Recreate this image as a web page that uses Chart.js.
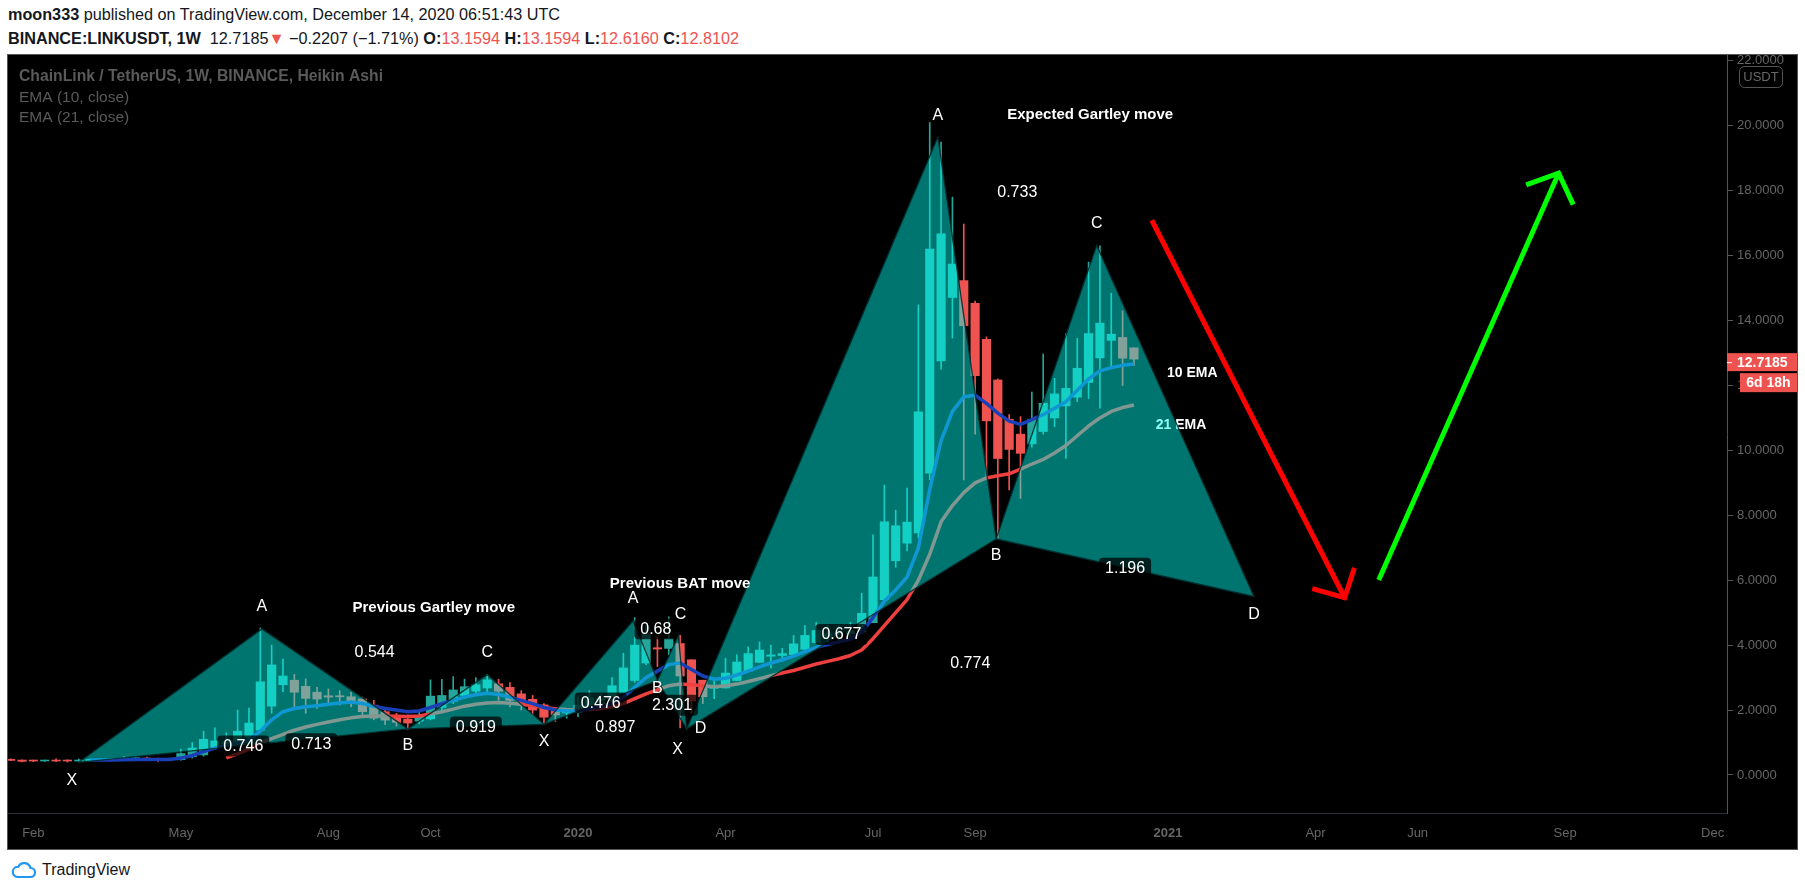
<!DOCTYPE html>
<html>
<head>
<meta charset="utf-8">
<script src="https://cdn.jsdelivr.net/npm/chart.js@4.4.1/dist/chart.umd.min.js"></script>
<style>
  body { margin: 0; width: 1805px; height: 895px; background: #fff; position: relative; overflow: hidden;
         font-family: "Liberation Sans", Arial, sans-serif; }
  .hdr { position: absolute; left: 8px; white-space: nowrap; font-size: 16px; color: #131722; transform-origin: 0 0; }
  #h1 { top: 6px; }
  #h2 { top: 30px; }
  .r { color: #ef5350; }
  #frame { position: absolute; left: 7px; top: 54px; width: 1789px; height: 794px; border: 1px solid #555; background: #000; }
  #logo { position: absolute; left: 11px; top: 861px; display: flex; align-items: center; gap: 5px;
          font-size: 16px; color: #131722; }
</style>
</head>
<body>
<div class="hdr" id="h1"></div>
<div class="hdr" id="h2"></div>
<div id="frame"><canvas id="c" width="1789" height="794"></canvas></div>
<div id="logo">
  <svg width="26" height="18" viewBox="0 0 26 18"><path d="M6.5 16h13a4.5 4.5 0 0 0 0-9 6.5 6.5 0 0 0-12.2-1.2A5 5 0 0 0 6.5 16z" fill="none" stroke="#2196f3" stroke-width="2.2"/></svg>
  <span>TradingView</span>
</div>
<script>
// weekly Heikin Ashi candles, LINKUSDT, first week 21 Jan 2019
const firstWeek = '2019-01-21';
const haOpen = [0.47,0.46,0.44,0.43,0.44,0.44,0.43,0.45,0.46,0.48,
  0.47,0.50,0.51,0.50,0.48,0.47,0.56,0.62,0.86,0.95,
  0.98,1.16,1.38,2.12,2.78,2.92,2.73,2.55,2.44,2.42,
  2.41,2.34,2.15,1.95,1.82,1.72,1.66,1.73,2.08,2.27,
  2.45,2.58,2.68,2.81,2.70,2.50,2.33,2.16,1.97,1.91,
  1.92,2.03,2.20,2.28,2.52,2.91,3.45,3.92,3.90,4.05,
  3.55,2.92,2.67,2.68,2.91,3.20,3.47,3.66,3.68,3.71,
  3.87,4.08,4.27,4.31,4.34,4.40,4.69,5.40,6.60,7.14,
  7.46,9.30,12.76,14.71,15.23,14.53,13.42,12.17,10.96,10.50,
  10.20,10.58,11.00,11.37,11.64,12.09,12.85,13.39,13.48,13.1594];
const haHigh = [0.50,0.47,0.46,0.46,0.50,0.47,0.49,0.50,0.50,0.51,
  0.57,0.56,0.55,0.52,0.52,0.80,1.00,1.35,1.45,1.30,
  2.00,2.06,4.53,4.00,3.57,3.10,2.96,2.70,2.65,2.60,
  2.55,2.40,2.30,2.05,1.90,1.85,2.00,2.93,2.95,3.03,
  2.95,3.00,3.10,2.95,2.85,2.60,2.45,2.20,2.00,2.05,
  2.40,2.60,2.50,3.00,3.75,4.85,4.60,4.26,4.87,4.30,
  3.55,2.92,2.95,3.60,3.70,3.95,4.10,4.00,3.90,4.30,
  4.60,4.70,4.60,4.60,4.70,5.60,7.40,8.93,8.16,8.84,
  14.48,20.10,19.50,17.80,16.97,14.60,13.50,12.20,11.10,11.04,
  11.80,12.97,12.22,13.60,13.45,15.80,16.30,14.84,14.30,13.1594];
const haLow = [0.44,0.40,0.41,0.42,0.41,0.40,0.42,0.43,0.44,0.44,
  0.45,0.47,0.46,0.42,0.44,0.46,0.52,0.58,0.80,0.85,
  0.95,1.10,1.30,1.90,2.57,2.10,1.90,2.05,2.20,2.15,
  2.10,1.80,1.70,1.55,1.50,1.40,1.58,1.70,2.00,2.20,
  2.35,2.50,2.55,2.30,2.10,2.00,1.85,1.60,1.65,1.75,
  1.80,2.00,2.10,2.25,2.50,2.85,3.40,3.34,3.70,1.45,
  1.90,2.20,2.35,2.68,2.91,3.20,3.47,3.30,3.50,3.71,
  3.87,4.08,4.00,4.10,4.20,4.40,4.69,5.40,6.40,6.90,
  7.30,9.10,12.50,13.46,9.09,10.50,9.20,7.30,8.78,8.52,
  10.10,10.50,10.73,9.75,11.50,11.60,11.30,12.53,12.00,12.616];
const haClose = [0.45,0.42,0.43,0.45,0.43,0.43,0.46,0.48,0.49,0.46,
  0.52,0.53,0.49,0.46,0.47,0.66,0.83,1.10,1.05,1.02,
  1.35,1.60,2.87,3.39,3.05,2.55,2.36,2.34,2.40,2.41,
  2.28,1.95,1.75,1.69,1.62,1.60,1.80,2.43,2.45,2.62,
  2.72,2.78,2.93,2.58,2.30,2.15,2.00,1.78,1.85,1.93,
  2.15,2.38,2.35,2.75,3.30,4.00,4.33,3.88,4.20,3.05,
  2.28,2.41,2.70,3.14,3.48,3.74,3.85,3.70,3.74,4.04,
  4.30,4.45,4.35,4.38,4.45,4.98,6.10,7.80,7.68,7.79,
  11.19,16.20,16.67,15.74,13.84,12.30,10.91,9.75,10.03,9.91,
  10.96,11.45,11.74,11.91,12.53,13.60,13.92,13.58,12.84,12.8102];
const ema10 = [null,null,null,null,null,null,null,0.46,0.46,0.46,
  0.47,0.48,0.48,0.48,0.48,0.52,0.60,0.72,0.83,0.90,
  0.98,1.08,1.35,1.70,1.95,2.05,2.10,2.13,2.18,2.22,
  2.25,2.20,2.12,2.05,2.00,1.95,1.97,2.08,2.20,2.30,
  2.40,2.47,2.52,2.48,2.40,2.30,2.20,2.08,2.00,1.97,
  1.98,2.04,2.10,2.20,2.40,2.70,3.00,3.20,3.40,3.45,
  3.25,3.05,2.95,2.98,3.08,3.20,3.33,3.45,3.55,3.66,
  3.80,3.93,4.02,4.10,4.18,4.40,4.85,5.35,5.70,6.10,
  7.00,8.80,10.30,11.20,11.65,11.70,11.45,11.15,10.90,10.80,
  10.95,11.10,11.30,11.50,11.85,12.20,12.45,12.55,12.62,12.66];
const ema21 = [null,null,null,null,null,null,null,null,null,null,
  null,null,null,null,null,null,null,null,null,0.53,
  0.65,0.80,0.98,1.12,1.25,1.38,1.48,1.56,1.63,1.70,
  1.76,1.80,1.82,1.82,1.81,1.80,1.82,1.88,1.95,2.03,
  2.12,2.18,2.22,2.23,2.21,2.18,2.13,2.08,2.04,2.02,
  2.01,2.02,2.04,2.10,2.20,2.35,2.50,2.62,2.75,2.80,
  2.78,2.75,2.72,2.75,2.80,2.88,2.97,3.06,3.14,3.22,
  3.32,3.42,3.50,3.58,3.68,3.85,4.20,4.60,5.00,5.40,
  6.00,6.80,7.80,8.30,8.70,9.00,9.15,9.22,9.28,9.42,
  9.58,9.72,9.92,10.15,10.45,10.75,11.00,11.20,11.32,11.40];

const lastPrice = 12.7185;
const lastChange = -0.2207;
const lastChangePct = -1.71;
const barCountdown = '6d 18h';

const priceTicks = [0, 2, 4, 6, 8, 10, 12, 14, 16, 18, 20, 22];
const timeTickDates = ['2019-02-04','2019-05-06','2019-08-05','2019-10-07','2020-01-06','2020-04-06',
  '2020-07-06','2020-09-07','2021-01-04','2021-04-05','2021-06-07','2021-09-06','2021-12-06'];
const timeTickLabels = ['Feb','May','Aug','Oct','2020','Apr','Jul','Sep','2021','Apr','Jun','Sep','Dec'];

// harmonic patterns, points X A B C D
const gartley1Dates = ['2019-03-04','2019-06-25','2019-09-23','2019-11-11','2019-12-16'];
const gartley1Prices = [0.39, 4.50, 1.42, 3.09, 1.56];
const gartley1Ratios = ['0.746', '0.544', '0.919', '0.713']; // XB AC BD XD
const batDates = ['2019-12-16','2020-02-09','2020-02-24','2020-03-08','2020-03-13'];
const batPrices = [1.56, 4.75, 2.91, 4.29, 1.42];
const batRatios = ['0.476', '0.68', '2.301', '0.897'];
const expectedDates = ['2020-03-13','2020-08-15','2020-09-20','2020-11-21','2021-02-26'];
const expectedPrices = [1.42, 19.65, 7.27, 16.31, 5.50];
const expectedRatios = ['0.677', '0.733', '1.196', '0.774'];

// hand drawn arrows
const dropArrowDates = ['2020-12-25', '2021-04-23'];
const dropArrowPrices = [17.09, 5.46];
const dropHeadDates = ['2021-04-03', '2021-04-23', '2021-04-29'];
const dropHeadPrices = [5.74, 5.46, 6.38];
const riseArrowDates = ['2021-05-14', '2021-09-02'];
const riseArrowPrices = [6.01, 18.54];
const riseHeadDates = ['2021-08-13', '2021-09-02', '2021-09-11'];
const riseHeadPrices = [18.18, 18.54, 17.57];

const titleNotes = [
  { date: '2019-10-09', price: 5.15, text: 'Previous Gartley move' },
  { date: '2020-03-09', price: 5.90, text: 'Previous BAT move' },
  { date: '2020-11-17', price: 20.33, text: 'Expected Gartley move' }
];
const emaNotes = [
  { date: '2021-01-19', price: 12.38, text: '10 EMA' },
  { date: '2021-01-12', price: 10.79, text: '21 EMA' }
];

// ---- helpers
const DAY0 = Date.UTC(2018, 11, 31);
const toDay = s => (Date.UTC(+s.slice(0, 4), +s.slice(5, 7) - 1, +s.slice(8, 10)) - DAY0) / 864e5;
const pts = (dates, prices) => dates.map((d, i) => ({ x: toDay(d), y: prices[i] }));

const weekDays = haOpen.map((_, i) => toDay(firstWeek) + 7 * i);
const UP = '#26a69a', DOWN = '#ef5350';
const candleColors = haOpen.map((o, i) => haClose[i] >= o ? UP : DOWN);
const FONT = '"Liberation Sans", Arial, sans-serif';

// header
const n = haOpen.length - 1;
const f4 = v => v.toFixed(4);
document.getElementById('h1').innerHTML =
  '<b>moon333</b> published on TradingView.com, December 14, 2020 06:51:43 UTC';
document.getElementById('h2').innerHTML =
  '<b>BINANCE:LINKUSDT, 1W</b>&nbsp; ' + f4(lastPrice) + '<span class="r">▼</span> ' +
  '\u2212' + Math.abs(lastChange).toFixed(4) + ' (\u2212' + Math.abs(lastChangePct).toFixed(2) + '%) ' +
  '<b>O:</b><span class="r">' + f4(haOpen[n]) + '</span> <b>H:</b><span class="r">' + f4(haHigh[n]) +
  '</span> <b>L:</b><span class="r">' + f4(haLow[n]) + '</span> <b>C:</b><span class="r">' + f4(haClose[n]) + '</span>';
[['h1', 552], ['h2', 731]].forEach(([id, w]) => {
  const el = document.getElementById(id);
  el.style.transform = 'scaleX(' + (w / el.getBoundingClientRect().width) + ')';
});

const patterns = [
  { dates: gartley1Dates, prices: gartley1Prices, ratios: gartley1Ratios,
    letters: [[-7, 18], [0, -22], [0, 17], [0, -22], null] },
  { dates: batDates, prices: batPrices, ratios: batRatios,
    letters: [[0, 17], [0, -22], [0, 8], [2, -21], [14, 0]] },
  { dates: expectedDates, prices: expectedPrices, ratios: expectedRatios,
    letters: [[-9, 21], [0, -22], [0, 17], [0, -22], [0, 18]] }
];
const LETTERS = ['X', 'A', 'B', 'C', 'D'];

function roundRect(ctx, x, y, w, h, r) {
  ctx.beginPath();
  ctx.moveTo(x + r, y);
  ctx.arcTo(x + w, y, x + w, y + h, r);
  ctx.arcTo(x + w, y + h, x, y + h, r);
  ctx.arcTo(x, y + h, x, y, r);
  ctx.arcTo(x, y, x + w, y, r);
  ctx.closePath();
}

const overlay = {
  id: 'overlay',
  beforeDatasetsDraw(chart) {
    const { ctx, scales: { x, y } } = chart;
    ctx.save();
    ctx.font = 'bold 14px ' + FONT;
    ctx.fillStyle = '#fff';
    ctx.textAlign = 'center';
    ctx.textBaseline = 'middle';
    emaNotes.forEach(t => ctx.fillText(t.text, x.getPixelForValue(toDay(t.date)), y.getPixelForValue(t.price)));
    ctx.restore();
  },
  afterDatasetsDraw(chart) {
    const { ctx, chartArea: a, scales: { x, y } } = chart;
    ctx.save();
    ctx.beginPath();
    ctx.rect(a.left, a.top, a.right - a.left, a.bottom - a.top);
    ctx.clip();

    const pix = patterns.map(p => p.dates.map((d, i) => [x.getPixelForValue(toDay(d)), y.getPixelForValue(p.prices[i])]));

    // triangles XAB and BCD
    pix.forEach(P => {
      [[0, 1, 2], [2, 3, 4]].forEach(tri => {
        ctx.beginPath();
        tri.forEach((k, j) => j ? ctx.lineTo(P[k][0], P[k][1]) : ctx.moveTo(P[k][0], P[k][1]));
        ctx.closePath();
        ctx.fillStyle = 'rgba(0,255,245,0.46)';
        ctx.fill();
        ctx.strokeStyle = 'rgba(0,45,45,0.9)';
        ctx.lineWidth = 1.3;
        ctx.stroke();
      });
    });

    // ratio labels on XB, AC, BD, XD
    ctx.font = '16px ' + FONT;
    ctx.textAlign = 'center';
    ctx.textBaseline = 'middle';
    pix.forEach((P, pi) => {
      [[0, 2], [1, 3], [2, 4], [0, 4]].forEach(([s, e], k) => {
        const mx = (P[s][0] + P[e][0]) / 2, my = (P[s][1] + P[e][1]) / 2;
        const txt = patterns[pi].ratios[k];
        const w = ctx.measureText(txt).width + 12;
        roundRect(ctx, mx - w / 2, my - 10, w, 21, 4);
        ctx.fillStyle = 'rgba(0,0,0,0.72)';
        ctx.fill();
        ctx.fillStyle = '#fff';
        ctx.fillText(txt, mx, my + 1);
      });
    });

    // point letters
    pix.forEach((P, pi) => {
      patterns[pi].letters.forEach((off, k) => {
        if (!off) return;
        ctx.fillStyle = '#fff';
        ctx.fillText(LETTERS[k], P[k][0] + off[0], P[k][1] + off[1]);
      });
    });

    // titles
    ctx.font = 'bold 15px ' + FONT;
    titleNotes.forEach(t => ctx.fillText(t.text, x.getPixelForValue(toDay(t.date)), y.getPixelForValue(t.price)));
    ctx.restore();

    // legend top left
    ctx.save();
    ctx.textAlign = 'left';
    ctx.textBaseline = 'middle';
    ctx.fillStyle = '#5a5a5a';
    ctx.font = 'bold 16px ' + FONT;
    ctx.fillText('ChainLink / TetherUS, 1W, BINANCE, Heikin Ashi', a.left + 11, 22, 364);
    ctx.font = '15.5px ' + FONT;
    ctx.fillText('EMA (10, close)', a.left + 11, 43);
    ctx.fillText('EMA (21, close)', a.left + 11, 63);
    ctx.restore();
  },
  afterDraw(chart) {
    const { ctx, chartArea: a, scales: { y } } = chart;
    const right = chart.width;
    const py = y.getPixelForValue(lastPrice);
    ctx.save();
    ctx.fillStyle = '#ef5350';
    ctx.fillRect(a.right, py - 9, right - a.right, 18);
    ctx.fillRect(a.right + 13, py + 11, right - a.right - 13, 19);
    ctx.strokeStyle = '#fff';
    ctx.lineWidth = 1;
    ctx.beginPath();
    ctx.moveTo(a.right, py + 0.5);
    ctx.lineTo(a.right + 5, py + 0.5);
    ctx.stroke();
    ctx.fillStyle = '#fff';
    ctx.font = 'bold 14px ' + FONT;
    ctx.textBaseline = 'middle';
    ctx.textAlign = 'left';
    ctx.fillText(f4(lastPrice), a.right + 10, py + 1);
    ctx.textAlign = 'center';
    ctx.fillText(barCountdown, (a.right + 13 + right) / 2, py + 21);

    // currency box
    ctx.fillStyle = '#000';
    roundRect(ctx, a.right + 12.5, 11.5, 43, 21, 5);
    ctx.fill();
    ctx.strokeStyle = '#555';
    ctx.stroke();
    ctx.fillStyle = '#666';
    ctx.font = '13px ' + FONT;
    ctx.fillText('USDT', a.right + 34, 22.5);
    ctx.restore();
  }
};

const lineStyle = (color, width) => ({
  type: 'line', borderColor: color, borderWidth: width, pointRadius: 0,
  borderJoinStyle: 'miter', borderCapStyle: 'butt', tension: 0, fill: false
});

new Chart(document.getElementById('c'), {
  type: 'bar',
  data: {
    datasets: [
      { ...lineStyle('#ff0000', 5), label: 'drop', data: pts(dropArrowDates, dropArrowPrices), order: 0 },
      { ...lineStyle('#ff0000', 5), label: 'drop head', data: pts(dropHeadDates, dropHeadPrices), order: 0 },
      { ...lineStyle('#00ff00', 5), label: 'rise', data: pts(riseArrowDates, riseArrowPrices), order: 0 },
      { ...lineStyle('#00ff00', 5), label: 'rise head', data: pts(riseHeadDates, riseHeadPrices), order: 0 },
      { ...lineStyle('#1a40b8', 3.5), borderJoinStyle: 'round', label: 'EMA 10',
        data: weekDays.map((d, i) => ({ x: d, y: ema10[i] })), order: 1 },
      { ...lineStyle('#ef4040', 3.5), borderJoinStyle: 'round', label: 'EMA 21',
        data: weekDays.map((d, i) => ({ x: d, y: ema21[i] })), order: 2 },
      { type: 'bar', label: 'body', data: weekDays.map((d, i) => ({ x: d, y: [haOpen[i], haClose[i]] })),
        backgroundColor: candleColors, barThickness: 8.5, minBarLength: 1, grouped: false, order: 3 },
      { type: 'bar', label: 'wick', data: weekDays.map((d, i) => ({ x: d, y: [haLow[i], haHigh[i]] })),
        backgroundColor: candleColors, barThickness: 1, grouped: false, order: 4 }
    ]
  },
  options: {
    responsive: false,
    devicePixelRatio: 1,
    animation: false,
    events: [],
    layout: { padding: 0 },
    plugins: { legend: { display: false }, tooltip: { enabled: false } },
    scales: {
      x: {
        type: 'linear', min: 19.34, max: 1079.87, offset: false,
        grid: { display: false, drawTicks: false },
        border: { display: true, color: '#2a2e39' },
        afterBuildTicks: s => { s.ticks = timeTickDates.map(d => ({ value: toDay(d) })); },
        ticks: {
          autoSkip: false, maxRotation: 0, padding: 13, color: '#666',
          font: c => ({ family: FONT, size: 13, weight: /^\d+$/.test(timeTickLabels[c.index]) ? 'bold' : 'normal' }),
          callback: (v, i) => timeTickLabels[i]
        },
        afterFit: s => { s.height = 36; s.paddingLeft = 0; s.paddingRight = 0; }
      },
      y: {
        type: 'linear', position: 'right', min: -1.171, max: 22.181,
        afterBuildTicks: s => { s.ticks = priceTicks.map(v => ({ value: v })); },
        grid: { drawOnChartArea: false, drawTicks: true, tickLength: 6, color: '#555' },
        border: { display: true, color: '#555' },
        ticks: { color: '#666', padding: 4, font: { family: FONT, size: 13 }, callback: v => v.toFixed(4) },
        afterFit: s => { s.width = 70; s.paddingTop = 0; s.paddingBottom = 0; }
      }
    }
  },
  plugins: [overlay]
});
</script>
</body>
</html>
